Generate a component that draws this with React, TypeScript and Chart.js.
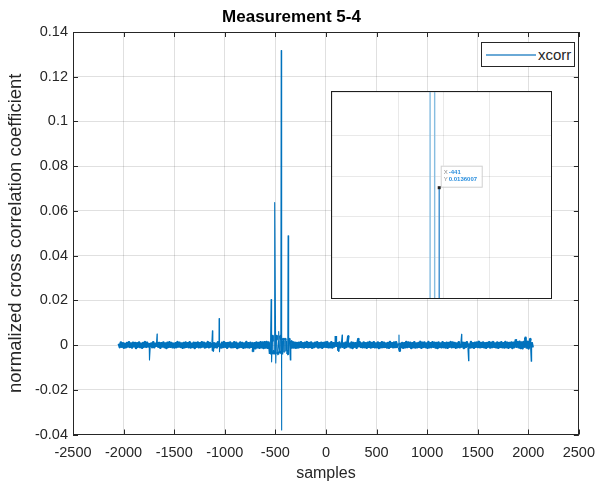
import React, { useEffect, useRef } from "react";
import { Chart, registerables } from "chart.js";

Chart.register(...registerables);

// ---------- text ----------
const TITLE = "Measurement 5-4";
const X_TITLE = "samples";
const Y_TITLE = "normalized cross correlation coefficient";
const SERIES_LABEL = "xcorr";

// ---------- axes ----------
const X_MIN = -2500;
const X_MAX = 2500;
const X_STEP = 500;
const Y_MIN = -0.04;
const Y_MAX = 0.14;
const Y_STEP = 0.02;

// ---------- data ----------
// baseline of the cross-correlation, one value every LAG_STEP lags, in units of 1e-4
const FIRST_LAG = -2047;
const LAG_STEP = 10;
const NOISE_E4 = [
  6, -9, 11, -7, 8, -12, 5, -10, 9, -6, 12, -8, 7, -11, 10, -5, 9, -13, 8, -7,
  11, -9, 6, -12, 9, -7, 13, -8, 10, -6, 8, -11, 7, -9, 12, -10, 6, -8, 14, -7,
  9, -12, 8, -6, 11, -9, 7, -13, 10, -8, 12, -7, 9, -10, 6, -11, 8, -9, 13, -6,
  10, -8, 7, -12, 9, -10, 11, -7, 8, -9, 12, -11, 6, -8, 10, -13, 9, -7, 11, -10,
  8, -9, 12, -6, 10, -11, 7, -8, 13, -10, 9, -7, 11, -12, 8, -9, 6, -10, 12, -8,
  7, -11, 10, -9, 13, -7, 8, -12, 9, -6, 11, -10, 7, -9, 12, -8, 10, -13, 6, -9,
  11, -8, 9, -12, 7, -10, 13, -9, 8, -11, 10, -7, 12, -9, 8, -14, 11, -10, 9, -12,
  12, -10, 11, -13, 12, -11, 13, -12, 11, -14, 18, -22, 20, -28, 24, -20, 26, -30, 22, -25,
  28, -24, 20, -30, 22, -26, 18, -22, 20, -16, 18, -15, 12, -11, 10, -12, 9, -11, 10, -8,
  12, -9, 8, -11, 10, -7, 13, -10, 9, -8, 11, -12, 7, -9, 10, -6, 12, -11, 8, -9,
  10, -12, 9, -7, 11, -8, 13, -10, 7, -9, 12, -11, 8, -6, 10, -9, 14, -8, 11, -10,
  9, -11, 7, -12, 10, -8, 12, -9, 6, -10, 11, -13, 9, -7, 8, -12, 10, -9, 13, -8,
  7, -10, 11, -9, 8, -12, 10, -7, 13, -11, 9, -8, 12, -10, 7, -9, 11, -13, 8, -10,
  12, -9, 10, -8, 7, -11, 9, -12, 13, -7, 8, -10, 11, -9, 12, -8, 6, -11, 10, -9,
  9, -12, 8, -10, 13, -9, 11, -7, 10, -13, 8, -9, 12, -11, 7, -10, 9, -8, 14, -12,
  10, -8, 11, -9, 7, -12, 13, -10, 8, -9, 12, -7, 10, -11, 9, -13, 11, -8, 7, -10,
  12, -9, 8, -11, 10, -12, 9, -7, 13, -10, 11, -8, 9, -12, 7, -9, 12, -10, 8, -11,
  10, -13, 9, -8, 12, -10, 7, -11, 13, -9, 8, -12, 10, -7, 11, -9, 14, -10, 9, -8,
  11, -10, 8, -12, 9, -7, 12, -11, 10, -9, 13, -8, 7, -10, 11, -12, 9, -8, 12, -10,
  8, -11, 13, -9, 10, -12, 9, -8, 11, -13, 10, -9, 14, -11, 12, -10, 15, -13, 11, -14,
  13, -12, 16, -11, 14, -15, 12, -10, 13, -11,
];

// isolated peaks (lag, value)
const SPIKE_LAGS = [
  -1744, -1669, -1122, -1118, -1056, -1052, -722,
  -552, -542, -537, -530, -524, -512, -506, -496, -490, -482, -467, -460, -452, -446,
  -442, -440, -436, -428, -420, -410, -398, -384, -374, -370, -362, -352, -340,
  98, 120, 160, 222, 322, 722, 730, 1341, 1410, 1880, 1970, 2022, 2029,
];
const SPIKE_VALUES = [
  -0.0067, 0.0049, 0.0064, -0.0025, 0.0118, -0.003, -0.003,
  -0.004, 0.0204, -0.0075, 0.004, -0.004, -0.004, 0.0637, -0.008, 0.004, -0.004, 0.006, -0.0035, 0.004, -0.003,
  0.1317, -0.038, 0.004, -0.004, 0.003, -0.003, 0.003, -0.004, 0.0489, -0.004, 0.003, -0.0067, 0.002,
  0.004, -0.0025, 0.0045, 0.0042, 0.003, 0.0045, -0.0025, 0.0048, -0.007, 0.0025, 0.0032, 0.003, -0.0072,
];

// ---------- inset (zoom around the main peak) ----------
const INSET_X_MIN = -464.5;
const INSET_X_MAX = -416.5;
const INSET_X_STEP = 10;
const INSET_Y_MIN = 0;
const INSET_Y_MAX = 0.0254;
const INSET_Y_STEP = 0.005;
const INSET_LAGS = [-443, -442, -441];
const INSET_TOPS = [0.2, 0.2, 0.0136007];
const INSET_BOTTOM = -0.05;
const DATATIP_X = -441;
const DATATIP_Y = 0.0136007;

// ---------- style ----------
const FONT = "'Liberation Sans', Arial, Helvetica, sans-serif";
const AXIS_COLOR = "#262626";
const GRID_COLOR = "rgba(38,38,38,0.14)";
const LINE_COLOR = "#0072BD";
const INSET_COLORS = ["#86bde0", "#86bde0", "#3f8fcf"];

function buildSeries() {
  const pts = NOISE_E4.map((v, i) => ({ x: FIRST_LAG + i * LAG_STEP, y: v * 1e-4 }));
  SPIKE_LAGS.forEach((lag, i) => pts.push({ x: lag, y: SPIKE_VALUES[i] }));
  pts.sort((a, b) => a.x - b.x);
  return pts;
}

const framePlugin = {
  id: "frame",
  afterDatasetsDraw(chart: any) {
    const { ctx, chartArea: a, scales } = chart;
    const L = 5;
    ctx.save();
    ctx.strokeStyle = AXIS_COLOR;
    ctx.lineWidth = 1;
    ctx.beginPath();
    scales.x.ticks.forEach((t: any) => {
      const px = Math.round(scales.x.getPixelForValue(t.value)) + 0.5;
      ctx.moveTo(px, a.bottom);
      ctx.lineTo(px, a.bottom - L);
      ctx.moveTo(px, a.top);
      ctx.lineTo(px, a.top + L);
    });
    scales.y.ticks.forEach((t: any) => {
      const py = Math.round(scales.y.getPixelForValue(t.value)) + 0.5;
      ctx.moveTo(a.left, py);
      ctx.lineTo(a.left + L, py);
      ctx.moveTo(a.right, py);
      ctx.lineTo(a.right - L, py);
    });
    ctx.stroke();
    ctx.strokeRect(Math.round(a.left) + 0.5, Math.round(a.top) + 0.5, Math.round(a.width) - 1, Math.round(a.height) - 1);
    ctx.restore();
  },
};

const datatipPlugin = {
  id: "datatip",
  afterDatasetsDraw(chart: any) {
    const { ctx, scales } = chart;
    const px = scales.x.getPixelForValue(DATATIP_X);
    const py = scales.y.getPixelForValue(DATATIP_Y);
    ctx.save();
    const bx = px + 1.5;
    const by = py - 22;
    const bw = 41;
    const bh = 21;
    ctx.fillStyle = "rgba(255,255,255,0.95)";
    ctx.fillRect(bx, by, bw, bh);
    ctx.strokeStyle = "#d0d0d0";
    ctx.lineWidth = 1;
    ctx.strokeRect(bx + 0.5, by + 0.5, bw, bh);
    ctx.fillStyle = "#222";
    ctx.fillRect(px - 1.5, py - 1.5, 3, 3);
    ctx.textBaseline = "middle";
    ctx.font = `6px ${FONT}`;
    ctx.fillStyle = "#8a8a8a";
    ctx.fillText("X", bx + 3, by + 7);
    ctx.fillText("Y", bx + 3, by + 14);
    ctx.font = `bold 6px ${FONT}`;
    ctx.fillStyle = "#2a8fde";
    ctx.fillText(String(DATATIP_X), bx + 8, by + 7);
    ctx.fillText(String(DATATIP_Y), bx + 8, by + 14);
    ctx.restore();
  },
};

export default function App() {
  const mainRef = useRef<HTMLCanvasElement>(null);
  const insetRef = useRef<HTMLCanvasElement>(null);

  useEffect(() => {
    const main = new Chart(mainRef.current as HTMLCanvasElement, {
      type: "line",
      data: {
        datasets: [
          {
            label: SERIES_LABEL,
            data: buildSeries(),
            borderColor: LINE_COLOR,
            borderWidth: 2.6,
            borderJoinStyle: "round",
            segment: {
              borderWidth: (c: any) => (Math.abs(c.p1.parsed.y - c.p0.parsed.y) > 0.0031 ? 1.1 : 2.6),
            },
            pointRadius: 0,
            tension: 0,
            fill: false,
          },
        ],
      },
      options: {
        animation: false,
        responsive: false,
        events: [],
        layout: { padding: { left: 0, right: 22, top: 0, bottom: 0 } },
        plugins: {
          legend: { display: false },
          tooltip: { enabled: false },
          title: {
            display: true,
            text: TITLE,
            color: "#000",
            font: { family: FONT, size: 17, weight: "bold" },
            padding: { top: 7, bottom: 4.6 },
          },
        },
        scales: {
          x: {
            type: "linear",
            min: X_MIN,
            max: X_MAX,
            ticks: {
              stepSize: X_STEP,
              color: AXIS_COLOR,
              font: { family: FONT, size: 14.5 },
              padding: 10,
              maxRotation: 0,
              autoSkip: false,
              callback: (v: any) => String(v),
            },
            grid: { color: GRID_COLOR, drawTicks: false },
            border: { display: false },
            title: {
              display: true,
              text: X_TITLE,
              color: AXIS_COLOR,
              font: { family: FONT, size: 16 },
              padding: { top: 0, bottom: 2 },
            },
            afterFit: (s: any) => {
              s.height = 50.5;
            },
          },
          y: {
            type: "linear",
            min: Y_MIN,
            max: Y_MAX,
            ticks: {
              stepSize: Y_STEP,
              color: AXIS_COLOR,
              font: { family: FONT, size: 14.5 },
              padding: 5,
              callback: (v: any) => String(parseFloat(Number(v).toFixed(2))),
            },
            grid: { color: GRID_COLOR, drawTicks: false },
            border: { display: false },
            title: {
              display: true,
              text: Y_TITLE,
              color: AXIS_COLOR,
              font: { family: FONT, size: 18.5 },
              padding: { top: 5, bottom: 0 },
            },
            afterFit: (s: any) => {
              s.width = 73;
            },
          },
        },
      },
      plugins: [framePlugin],
    } as any);

    const inset = new Chart(insetRef.current as HTMLCanvasElement, {
      type: "line",
      data: {
        datasets: INSET_LAGS.map((lag, i) => ({
          label: SERIES_LABEL,
          data: [
            { x: lag, y: INSET_TOPS[i] },
            { x: lag, y: INSET_BOTTOM },
          ],
          borderColor: INSET_COLORS[i],
          borderWidth: 1.4,
          pointRadius: 0,
          tension: 0,
        })),
      },
      options: {
        animation: false,
        responsive: false,
        events: [],
        layout: { padding: 0 },
        plugins: { legend: { display: false }, tooltip: { enabled: false }, title: { display: false } },
        scales: {
          x: {
            type: "linear",
            min: INSET_X_MIN,
            max: INSET_X_MAX,
            ticks: { display: false, stepSize: INSET_X_STEP },
            grid: { color: "rgba(38,38,38,0.1)", drawTicks: false },
            border: { display: false },
            afterFit: (s: any) => {
              s.height = 0;
            },
          },
          y: {
            type: "linear",
            min: INSET_Y_MIN,
            max: INSET_Y_MAX,
            ticks: { display: false, stepSize: INSET_Y_STEP },
            grid: { color: "rgba(38,38,38,0.1)", drawTicks: false },
            border: { display: false },
            afterFit: (s: any) => {
              s.width = 0;
            },
          },
        },
      },
      plugins: [datatipPlugin],
    } as any);

    return () => {
      main.destroy();
      inset.destroy();
    };
  }, []);

  return (
    <div style={{ position: "fixed", left: 0, top: 0, width: 605, height: 485, background: "#fff", overflow: "hidden" }}>
      <canvas ref={mainRef} width={605} height={485} style={{ position: "absolute", left: 0, top: 0 }} />
      <div
        style={{
          position: "absolute",
          left: 331,
          top: 91,
          width: 221,
          height: 208,
          boxSizing: "border-box",
          border: "1px solid #1e1e1e",
          background: "#fff",
        }}
      >
        <canvas ref={insetRef} width={219} height={206} style={{ display: "block" }} />
      </div>
      <div
        style={{
          position: "absolute",
          left: 481,
          top: 42,
          width: 94,
          height: 25,
          boxSizing: "border-box",
          border: "1px solid #262626",
          background: "#fff",
          fontFamily: FONT,
          fontSize: 15,
          color: AXIS_COLOR,
        }}
      >
        <span style={{ position: "absolute", left: 4, top: 11, width: 50, height: 1.5, background: "#6aa9d6" }} />
        <span style={{ position: "absolute", left: 56, top: 2, lineHeight: "19px" }}>{SERIES_LABEL}</span>
      </div>
    </div>
  );
}
